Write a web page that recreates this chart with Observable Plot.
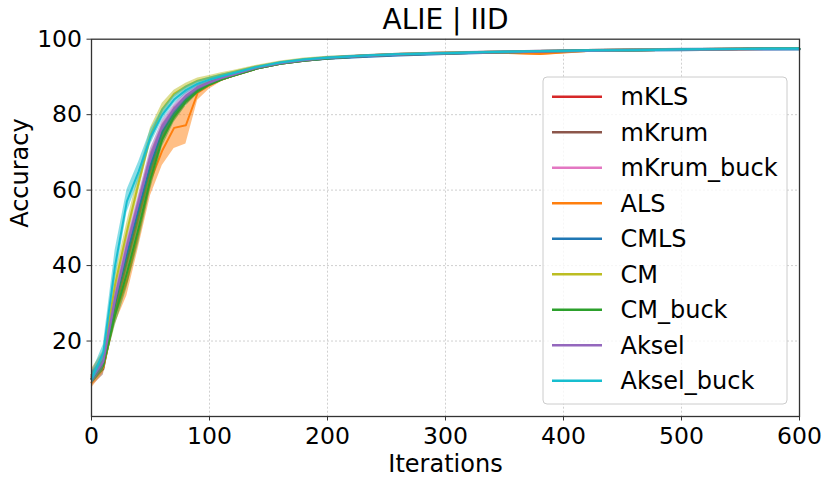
<!DOCTYPE html>
<html>
<head>
<meta charset="utf-8">
<script src="https://cdn.jsdelivr.net/npm/d3@7"></script>
<script src="https://cdn.jsdelivr.net/npm/@observablehq/plot@0.6"></script>
<style>
  html, body { margin: 0; padding: 0; background: white; }
  svg { display: block; }
</style>
</head>
<body>
<div id="chart"></div>
<script>
// ---- data ----
const iterations = [0,10,20,30,40,50,60,70,80,90,100,110,120,140,160,180,200,230,260,300,340,380,420,460,500,550,600];

const seriesNames = ["mKLS","mKrum","mKrum_buck","ALS","CMLS","CM","CM_buck","Aksel","Aksel_buck"];
const seriesColors = ["#d62728","#8c564b","#e377c2","#ff7f0e","#1f77b4","#bcbd22","#2ca02c","#9467bd","#17becf"];

const meanMKLS      = [10.5,14.0,30.0,44.0,56.0,68.0,76.0,80.5,84.0,86.5,88.2,89.5,90.5,92.3,93.6,94.4,95.0,95.5,95.9,96.3,96.5,96.8,97.0,97.1,97.2,97.4,97.5];
const meanMKrum     = [10.0,12.5,28.0,41.0,53.0,65.0,74.0,79.5,83.5,86.3,88.0,89.3,90.3,92.2,93.5,94.3,94.9,95.5,95.9,96.2,96.5,96.7,97.0,97.1,97.2,97.4,97.5];
const meanMKrumBuck = [11.0,15.5,31.0,44.0,56.0,67.5,76.0,81.0,84.3,86.8,88.3,89.5,90.5,92.3,93.6,94.4,95.0,95.6,96.0,96.3,96.6,96.8,97.0,97.2,97.3,97.4,97.5];
const meanALS       = [9.0,13.0,27.0,36.0,49.0,62.5,70.5,76.5,77.2,85.8,87.8,89.3,90.3,92.2,93.5,94.3,94.9,95.5,95.9,96.3,96.5,96.1,96.9,97.1,97.2,97.4,97.4];
const meanCMLS      = [10.0,14.0,30.0,43.0,55.0,66.5,75.5,80.5,84.0,86.5,88.2,89.4,90.4,92.2,93.5,94.3,94.8,95.3,95.7,96.1,96.4,96.7,96.9,97.0,97.1,97.3,97.3];
const meanCM        = [11.0,16.0,35.0,49.0,62.0,74.5,81.5,85.5,87.5,89.0,89.8,90.6,91.3,92.8,93.9,94.7,95.2,95.6,96.0,96.3,96.5,96.7,96.9,97.1,97.2,97.3,97.5];
const meanCMBuck    = [10.0,13.5,27.0,38.0,50.0,63.0,73.5,79.5,83.5,86.3,88.0,89.3,90.3,92.2,93.5,94.3,94.9,95.5,95.9,96.2,96.5,96.7,97.0,97.1,97.2,97.4,97.5];
const meanAksel     = [10.0,14.5,31.0,45.0,57.0,69.0,77.0,81.5,85.0,87.2,88.5,89.7,90.6,92.4,93.6,94.4,95.0,95.5,95.9,96.2,96.5,96.7,96.9,97.1,97.2,97.3,97.4];
const meanAkselBuck = [10.0,17.0,40.0,57.0,65.0,74.0,80.0,84.0,86.5,88.2,89.3,90.2,91.0,92.6,93.8,94.6,95.1,95.6,96.0,96.3,96.6,96.8,97.0,97.1,97.3,97.4,97.5];

const stdMKLS      = [1.5,1.5,2.0,2.0,2.0,2.0,1.5,1.2,1.0,0.8,0.6,0.5,0.4,0.3,0.3,0.3,0.3,0.3,0.3,0.3,0.3,0.3,0.3,0.3,0.3,0.3,0.3];
const stdMKrum     = [2.0,1.5,2.0,2.5,2.5,2.0,1.5,1.2,1.0,0.8,0.6,0.5,0.4,0.3,0.3,0.3,0.3,0.3,0.3,0.3,0.3,0.3,0.3,0.3,0.3,0.3,0.3];
const stdMKrumBuck = [1.5,1.5,2.0,2.0,2.0,2.0,1.5,1.2,1.0,0.8,0.6,0.5,0.4,0.3,0.3,0.3,0.3,0.3,0.3,0.4,0.3,0.3,0.3,0.3,0.3,0.3,0.3];
const stdALS       = [1.5,1.5,2.5,4.0,4.0,4.0,4.0,5.5,5.0,2.0,1.0,0.6,0.4,0.3,0.3,0.3,0.3,0.3,0.3,0.3,0.3,0.4,0.3,0.3,0.3,0.3,0.3];
const stdCMLS      = [1.5,1.5,2.0,2.0,2.0,2.0,1.5,1.2,1.0,0.8,0.6,0.5,0.4,0.3,0.3,0.3,0.3,0.3,0.3,0.3,0.3,0.3,0.3,0.3,0.3,0.3,0.3];
const stdCM        = [1.5,1.5,2.5,2.5,2.5,2.0,1.5,1.0,0.8,0.7,0.6,0.5,0.4,0.3,0.3,0.3,0.3,0.3,0.3,0.3,0.3,0.3,0.3,0.3,0.3,0.3,0.3];
const stdCMBuck    = [1.5,1.5,3.0,4.0,4.0,3.0,2.0,1.5,1.2,0.8,0.6,0.5,0.4,0.3,0.3,0.3,0.3,0.3,0.3,0.3,0.3,0.3,0.3,0.3,0.3,0.3,0.3];
const stdAksel     = [1.5,1.5,2.0,2.0,2.0,2.0,1.5,1.2,1.0,0.8,0.6,0.5,0.4,0.3,0.3,0.3,0.3,0.3,0.3,0.3,0.3,0.3,0.3,0.3,0.3,0.3,0.3];
const stdAkselBuck = [1.5,2.0,4.0,3.0,2.5,2.0,1.5,1.2,1.0,0.8,0.6,0.5,0.4,0.3,0.3,0.3,0.3,0.3,0.3,0.3,0.3,0.3,0.3,0.3,0.3,0.3,0.3];

const xTicks = [0,100,200,300,400,500,600];
const yTicks = [20,40,60,80,100];
const titleText = "ALIE | IID";
const xLabel = "Iterations";
const yLabel = "Accuracy";

// ---- build tables ----
const means = [meanMKLS,meanMKrum,meanMKrumBuck,meanALS,meanCMLS,meanCM,meanCMBuck,meanAksel,meanAkselBuck];
const stds  = [stdMKLS,stdMKrum,stdMKrumBuck,stdALS,stdCMLS,stdCM,stdCMBuck,stdAksel,stdAkselBuck];
const tables = seriesNames.map((name, i) =>
  iterations.map((x, j) => ({x, m: means[i][j], lo: means[i][j] - stds[i][j], hi: means[i][j] + stds[i][j]}))
);

const FONT = "DejaVu Sans";
const marks = [
  Plot.gridX(xTicks.slice(1, -1), {stroke: "#c4c4c4", strokeOpacity: 1, strokeWidth: 0.8, strokeDasharray: "2,2"}),
  Plot.gridY(yTicks.slice(0, -1), {stroke: "#c4c4c4", strokeOpacity: 1, strokeWidth: 0.8, strokeDasharray: "2,2"})
];
tables.forEach((t, i) => {
  marks.push(Plot.areaY(t, {x: "x", y1: "lo", y2: "hi", fill: seriesColors[i], fillOpacity: 0.5}));
  marks.push(Plot.line(t, {x: "x", y: "m", stroke: seriesColors[i], strokeWidth: 2}));
});
marks.push(
  Plot.frame({stroke: "#333", strokeWidth: 1.3}),
  Plot.axisX(xTicks, {tickSize: 4.5, tickPadding: 6, fontSize: 23.5, label: null, stroke: "#333"}),
  Plot.axisY(yTicks, {tickSize: 4.5, tickPadding: 5, fontSize: 23.5, label: null, stroke: "#333"}),
  Plot.text([titleText], {frameAnchor: "top", dy: -10.5, lineAnchor: "bottom", fontSize: 28, fill: "black"}),
  Plot.text([xLabel], {frameAnchor: "bottom", dy: 55, lineAnchor: "bottom", fontSize: 24, fill: "black"}),
  Plot.text([yLabel], {frameAnchor: "left", dx: -64, rotate: -90, lineAnchor: "bottom", fontSize: 24, fill: "black"})
);

const svg = Plot.plot({
  width: 831,
  height: 485,
  marginLeft: 91,
  marginRight: 32,
  marginTop: 38.7,
  marginBottom: 69,
  x: {domain: [0, 600], axis: null},
  y: {domain: [0, 100], axis: null},
  style: {fontFamily: FONT, fontSize: "23.5px", color: "black", background: "white"},
  marks
});

// ---- legend (inside the upper right of the frame) ----
const lg = d3.select(svg).append("g")
  .attr("font-family", FONT).attr("font-size", 24).attr("text-anchor", "start");
lg.append("rect")
  .attr("x", 543).attr("y", 77).attr("width", 244).attr("height", 327)
  .attr("rx", 4).attr("fill", "white").attr("fill-opacity", 0.8)
  .attr("stroke", "#cccccc").attr("stroke-width", 1);
seriesNames.forEach((name, i) => {
  const cy = 96.7 + i * 35.5;
  lg.append("line").attr("x1", 552).attr("x2", 602).attr("y1", cy).attr("y2", cy)
    .attr("stroke", seriesColors[i]).attr("stroke-width", 2.5);
  lg.append("text").attr("x", 620.5).attr("y", cy).attr("dy", "0.36em")
    .attr("text-anchor", "start").attr("fill", "black").text(name);
});

document.getElementById("chart").appendChild(svg);
</script>
</body>
</html>
